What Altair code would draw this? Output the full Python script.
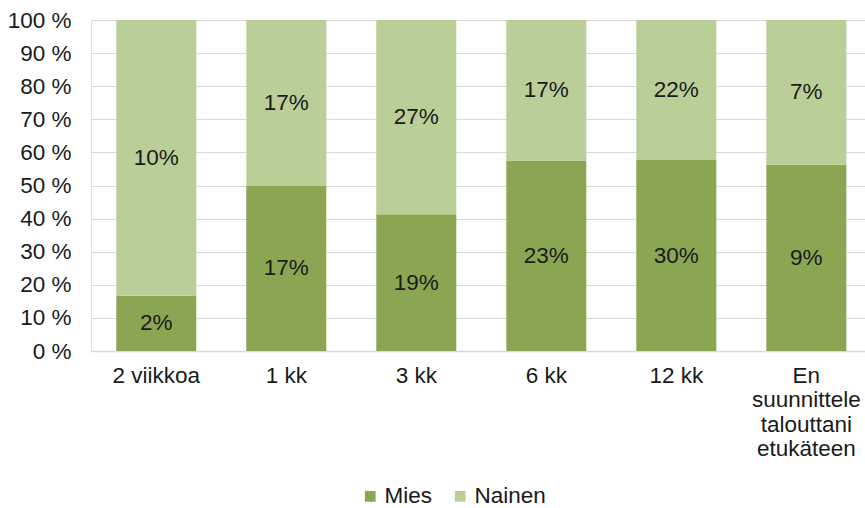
import altair as alt
import pandas as pd

categories = ["2 viikkoa", "1 kk", "3 kk", "6 kk", "12 kk",
              "En\nsuunnittele\ntalouttani\netukäteen"]
mies = [2, 17, 19, 23, 30, 9]
nainen = [10, 17, 27, 17, 22, 7]
series = ["Mies", "Nainen"]
colors = ["#8ba653", "#bacf97"]
y_ticks = [0, 0.1, 0.2, 0.3, 0.4, 0.5, 0.6, 0.7, 0.8, 0.9, 1.0]

rows = []
for i, cat in enumerate(categories):
    rows.append({"category": cat, "series": "Mies", "value": mies[i], "order": 0})
    rows.append({"category": cat, "series": "Nainen", "value": nainen[i], "order": 1})
df = pd.DataFrame(rows)

FONT = "Liberation Sans"
FS = 22.5

base = (
    alt.Chart(df)
    .transform_joinaggregate(total="sum(value)", groupby=["category"])
    .transform_calculate(share="datum.value / datum.total")
    .transform_stack(stack="share", as_=["y0", "y1"], groupby=["category"],
                     sort=[alt.SortField("order", order="ascending")])
    .transform_calculate(mid="(datum.y0 + datum.y1) / 2",
                         label="datum.value + '%'")
)

x_axis = alt.Axis(
    title=None,
    labelAngle=0,
    labelFontSize=FS,
    labelFont=FONT,
    labelColor="#1a1a1a",
    labelPadding=13,
    labelLineHeight=24.5,
    labelExpr="split(datum.label, '\\n')",
    ticks=False,
    domainColor="#d9d9d9",
    domainWidth=1.5,
)
x_scale = alt.Scale(paddingInner=0.3846, paddingOuter=0.169, align=0.575)

y_axis = alt.Axis(
    title=None,
    values=y_ticks,
    labelExpr="round(datum.value * 100) + ' %'",
    labelFontSize=FS,
    labelFont=FONT,
    labelColor="#1a1a1a",
    labelPadding=20,
    labelOverlap=False,
    ticks=False,
    domain=False,
    gridColor="#d9d9d9",
    gridWidth=1.2,
)
y_scale = alt.Scale(domain=[0, 1], nice=False)

bars = base.mark_bar().encode(
    x=alt.X("category:N", sort=categories, scale=x_scale, axis=x_axis),
    y=alt.Y("y0:Q", scale=y_scale, axis=y_axis),
    y2="y1:Q",
    color=alt.Color(
        "series:N",
        scale=alt.Scale(domain=series, range=colors),
        legend=alt.Legend(
            title=None,
            orient="none",
            direction="horizontal",
            legendX=268,
            legendY=465,
            symbolType="square",
            symbolSize=115,
            symbolStrokeWidth=0,
            labelFontSize=FS,
            labelFont=FONT,
            labelColor="#1a1a1a",
            labelOffset=3,
            columnPadding=16,
        ),
    ),
)

texts = base.mark_text(fontSize=FS, font=FONT, color="#1a1a1a").encode(
    x=alt.X("category:N", sort=categories, scale=x_scale, axis=x_axis),
    y=alt.Y("mid:Q", scale=y_scale, axis=y_axis),
    text="label:N",
)

chart = (
    alt.layer(bars, texts)
    .properties(
        width=774,
        height=331,
        autosize=alt.AutoSizeParams(type="none"),
        padding={"left": 91, "top": 20, "right": 0, "bottom": 157},
    )
    .configure_view(stroke=None)
    .configure(background="white")
)

chart.save("out.html", embed_options={"renderer": "svg", "actions": False})
